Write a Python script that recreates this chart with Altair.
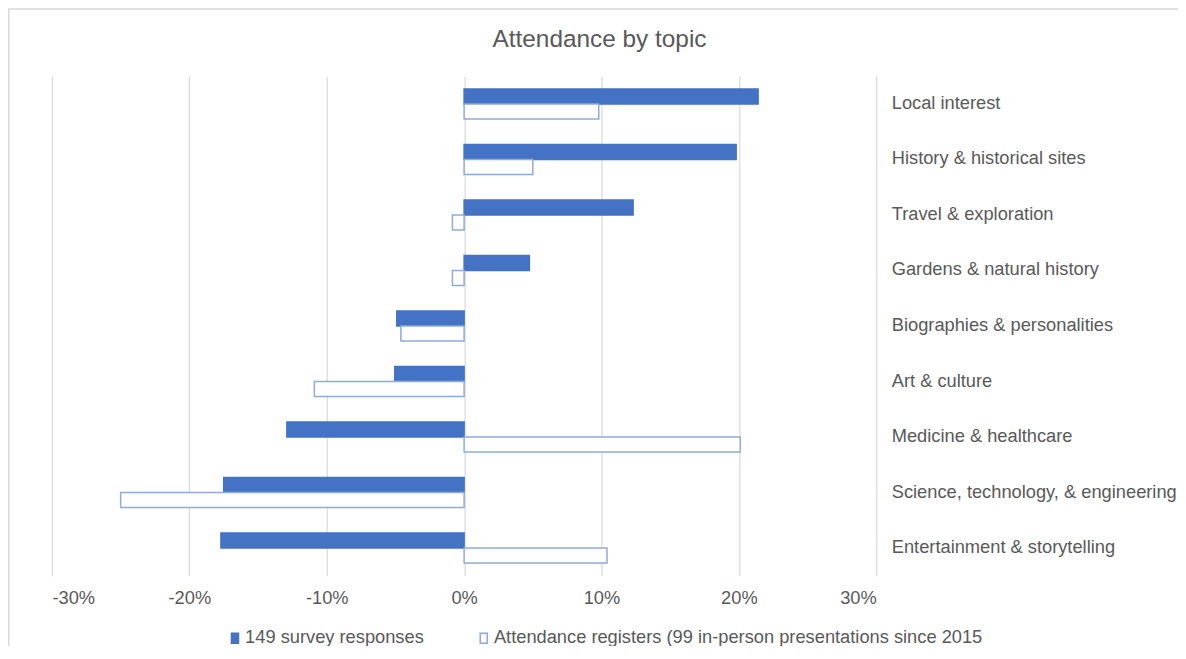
import altair as alt
import pandas as pd

categories = [
    "Local interest",
    "History & historical sites",
    "Travel & exploration",
    "Gardens & natural history",
    "Biographies & personalities",
    "Art & culture",
    "Medicine & healthcare",
    "Science, technology, & engineering",
    "Entertainment & storytelling",
]
survey = [21.4, 19.8, 12.3, 4.75, -4.9, -5.05, -12.9, -17.5, -17.7]
registers = [9.8, 5.0, -0.85, -0.85, -4.6, -10.9, 20.1, -25.0, 10.4]
series_names = [
    "149 survey responses",
    "Attendance registers (99 in-person presentations since 2015",
]
x_ticks = [-0.3, -0.2, -0.1, 0.0, 0.1, 0.2, 0.3]
title_text = ["Attendance by topic"]

rows = []
for c, s, r in zip(categories, survey, registers):
    rows.append({"topic": c, "series": series_names[0], "value": s / 100})
    rows.append({"topic": c, "series": series_names[1], "value": r / 100})
df = pd.DataFrame(rows)

FONT = "Liberation Sans"
GREY = "#595959"
FS = 18.3
W, H = 825, 500
PL, PT, PR, PB = 44, 68, 302, 70

legend = alt.Legend(
    orient="none", legendX=174, legendY=553, direction="horizontal", title=None,
    symbolType="M-1.167,-1.667H1.167V1.667H-1.167Z", symbolSize=36, symbolStrokeWidth=1.5,
    labelFontSize=FS, labelFont=FONT, labelColor=GREY, columnPadding=50, labelOffset=1,
    labelLimit=800,
)

bars = alt.Chart(df).mark_bar(strokeWidth=1.5).encode(
    x=alt.X("value:Q", scale=alt.Scale(domain=[-0.3, 0.3], nice=False),
            axis=alt.Axis(values=x_ticks, title=None, domain=False, ticks=False,
                          labelExpr="(datum.value < 0 ? '-' : '') + format(abs(datum.value), '.0%')",
                          grid=True, gridColor="#D9D9D9", gridWidth=1.2, labelPadding=14,
                          labelFontSize=FS, labelFont=FONT, labelColor=GREY)),
    y=alt.Y("topic:N", sort=categories,
            scale=alt.Scale(paddingInner=0.46, paddingOuter=0.23),
            axis=alt.Axis(orient="right", title=None, domain=False, ticks=False, grid=False,
                          labelAlign="left", labelPadding=15, labelFontSize=FS,
                          labelFont=FONT, labelColor=GREY, labelLimit=400)),
    yOffset=alt.YOffset("series:N", sort=series_names, scale=alt.Scale(paddingInner=0, paddingOuter=0)),
    fill=alt.Fill("series:N", sort=series_names,
                  scale=alt.Scale(domain=series_names, range=["#4472C4", "#FFFFFF"]), legend=legend),
    stroke=alt.Stroke("series:N", sort=series_names,
                      scale=alt.Scale(domain=series_names, range=["#4472C4", "#8FAADC"]), legend=legend),
)

border = alt.Chart(pd.DataFrame({"a": [0]})).mark_rect(
    fill=None, stroke="#D9D9D9", strokeWidth=1.5, clip=False
).encode(
    x=alt.value(-PL + 0.75), x2=alt.value(W + PR + 20),
    y=alt.value(-PT + 0.75), y2=alt.value(H + PB + 20),
)

title = alt.Chart(pd.DataFrame({"t": title_text})).mark_text(
    font=FONT, fontSize=24.4, color=GREY, align="center", baseline="middle", clip=False
).encode(text="t:N", x=alt.value(548), y=alt.value(-36))

chart = alt.layer(border, bars, title).properties(
    width=W, height=H,
    autosize=alt.AutoSizeParams(type="none"),
    padding={"left": PL, "top": PT, "right": PR, "bottom": PB},
).configure_view(stroke=None)

chart.save("out.html", embed_options={"renderer": "svg", "actions": False})
